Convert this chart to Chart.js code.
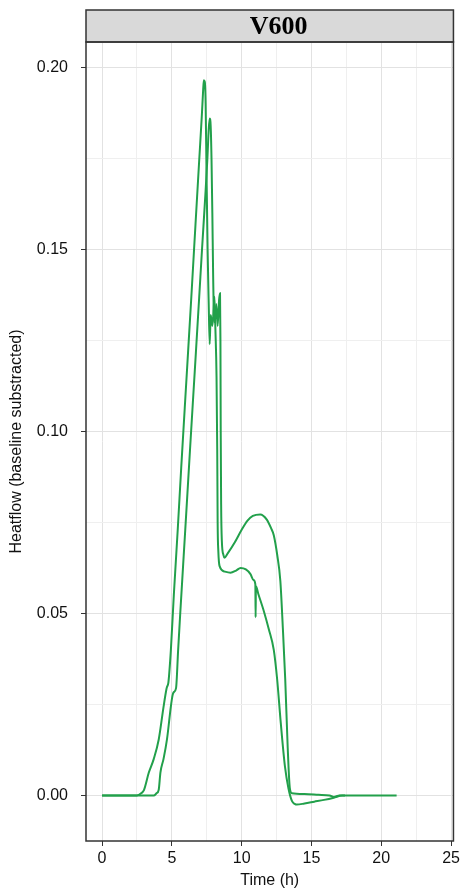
<!DOCTYPE html>
<html>
<head>
<meta charset="utf-8">
<script src="https://cdn.jsdelivr.net/npm/chart.js@4/dist/chart.umd.min.js"></script>
<style>
  body { margin: 0; background: #fff; }
  #wrap { width: 463px; height: 890px; }
</style>
</head>
<body>
<div id="wrap"><canvas id="grafico" width="463" height="890"></canvas></div>
<script>
    // Curva A (sube antes, pico mas alto)
    const tiempoA = [0, 2.5, 2.8, 3.0, 3.35, 3.7, 4.06, 4.41, 4.6, 4.65, 4.75, 4.93, 5.14, 5.42, 5.67, 6.04, 6.38, 6.59, 6.96, 7.15, 7.23, 7.29, 7.36, 7.42, 7.48, 7.56, 7.64, 7.71, 7.78, 7.9, 8.0, 8.05, 8.12, 8.2, 8.25, 8.28, 8.33, 8.42, 8.8, 9.2, 9.6, 9.92, 10.3, 10.63, 10.85, 10.98, 11.0, 11.02, 11.2, 11.6, 11.95, 12.3, 12.54, 12.8, 13.1, 13.35, 13.6, 13.8, 13.95, 14.5, 15.2, 15.9, 16.6, 17.2, 17.4];
    const flujoA = [0, 0, 0.0006, 0.0015, 0.0063, 0.010, 0.0154, 0.0245, 0.029, 0.0298, 0.031, 0.040, 0.055, 0.073, 0.090, 0.114, 0.136, 0.150, 0.1746, 0.187, 0.193, 0.1965, 0.196, 0.19, 0.172, 0.15, 0.135, 0.124, 0.132, 0.129, 0.134, 0.137, 0.128, 0.115, 0.095, 0.075, 0.067, 0.063, 0.0615, 0.0612, 0.0618, 0.0625, 0.0621, 0.0608, 0.0592, 0.058, 0.049, 0.0575, 0.0553, 0.0505, 0.0456, 0.040, 0.032, 0.020, 0.008, 0.002, -0.0015, -0.0023, -0.0025, -0.0022, -0.0017, -0.0012, -0.0006, 0, 0];

    // Curva B (sube despues, segundo hombro mas alto)
    const tiempoB = [0, 3.7, 3.9, 4.06, 4.18, 4.4, 4.65, 4.93, 5.05, 5.12, 5.3, 5.45, 5.6, 5.96, 6.3, 6.6, 6.72, 6.96, 7.16, 7.4, 7.54, 7.64, 7.71, 7.78, 7.84, 7.9, 7.95, 8.0, 8.08, 8.18, 8.28, 8.38, 8.45, 8.48, 8.5, 8.53, 8.58, 8.7, 8.77, 9.0, 9.5, 10.0, 10.42, 10.8, 11.33, 11.8, 12.1, 12.3, 12.55, 12.77, 12.95, 13.12, 13.3, 13.45, 13.6, 14.5, 15.5, 16.3, 16.6, 17.0, 18, 21.1];
    const flujoB = [0, 0, 0.0006, 0.0016, 0.0063, 0.010, 0.0154, 0.0245, 0.0275, 0.0283, 0.0295, 0.040, 0.050, 0.073, 0.095, 0.114, 0.1216, 0.137, 0.150, 0.165, 0.1746, 0.183, 0.186, 0.184, 0.175, 0.16, 0.145, 0.133, 0.130, 0.135, 0.129, 0.136, 0.138, 0.125, 0.10, 0.08, 0.07, 0.066, 0.0653, 0.0665, 0.0695, 0.073, 0.0755, 0.0768, 0.0772, 0.0758, 0.0735, 0.0715, 0.066, 0.059, 0.046, 0.032, 0.013, 0.002, 0.0006, 0.0004, 0.0002, 0, -0.0004, 0, 0, 0];

    // Ejes: lineas mayores (con etiqueta) y menores
    const ticksX = [0, 2.5, 5, 7.5, 10, 12.5, 15, 17.5, 20, 22.5, 25];
    const etiquetasX = [0, 5, 10, 15, 20, 25];
    const ticksY = [0, 0.025, 0.05, 0.075, 0.1, 0.125, 0.15, 0.175, 0.2];
    const etiquetasY = [0, 0.05, 0.1, 0.15, 0.2];

    const panelTitulo = 'V600';
    const verde = '#22a04b';

    const puntos = (xs, ys) => xs.map((x, i) => ({ x: x, y: ys[i] }));

    // Franja gris del panel y borde (estilo facet)
    const panelPlugin = {
        id: 'panel',
        afterDraw(chart) {
            const { ctx, chartArea: a } = chart;
            ctx.save();
            ctx.fillStyle = '#d9d9d9';
            ctx.fillRect(a.left, 10, a.right - a.left, a.top - 10);
            ctx.strokeStyle = '#333';
            ctx.lineWidth = 1.5;
            ctx.strokeRect(a.left, 10, a.right - a.left, a.top - 10);
            ctx.strokeRect(a.left, a.top, a.right - a.left, a.bottom - a.top);
            ctx.fillStyle = '#000';
            ctx.font = 'bold 26px "Liberation Serif", "DejaVu Serif", serif';
            ctx.textAlign = 'center';
            ctx.textBaseline = 'middle';
            ctx.fillText(panelTitulo, (a.left + a.right) / 2 + 9, 27);
            ctx.restore();
        }
    };

    const fuente = { family: '"Liberation Sans", Arial, sans-serif', size: 16 };

    new Chart(document.getElementById('grafico').getContext('2d'), {
        type: 'line',
        data: {
            datasets: [
                { label: 'A', data: puntos(tiempoA, flujoA), borderColor: verde, borderWidth: 2, pointRadius: 0, cubicInterpolationMode: 'monotone', fill: false },
                { label: 'B', data: puntos(tiempoB, flujoB), borderColor: verde, borderWidth: 2, pointRadius: 0, cubicInterpolationMode: 'monotone', fill: false }
            ]
        },
        options: {
            responsive: false,
            animation: false,
            layout: { padding: { top: 42, right: 5, left: 0, bottom: 0 } },
            plugins: { legend: { display: false }, tooltip: { enabled: false } },
            scales: {
                x: {
                    type: 'linear',
                    min: -1.15,
                    max: 25.17,
                    afterBuildTicks: (axis) => { axis.ticks = ticksX.map(v => ({ value: v })); },
                    afterFit: (scale) => { scale.height = 49; },
                    border: { display: false },
                    grid: {
                        color: (c) => etiquetasX.includes(c.tick.value) ? '#e2e2e2' : '#efefef',
                        tickColor: (c) => etiquetasX.includes(c.tick.value) ? '#333' : 'rgba(0,0,0,0)',
                        tickLength: 5,
                        lineWidth: 1
                    },
                    ticks: {
                        autoSkip: false,
                        maxRotation: 0,
                        padding: 3,
                        color: '#111',
                        font: fuente,
                        callback: (v) => etiquetasX.includes(v) ? String(v) : ''
                    },
                    title: { display: true, text: 'Time (h)', color: '#111', font: fuente, padding: { top: 0, bottom: 0 } }
                },
                y: {
                    min: -0.0125,
                    max: 0.207,
                    afterBuildTicks: (axis) => { axis.ticks = ticksY.map(v => ({ value: v })); },
                    afterFit: (scale) => { scale.width = 86; },
                    border: { display: false },
                    grid: {
                        color: (c) => etiquetasY.includes(c.tick.value) ? '#e2e2e2' : '#efefef',
                        tickColor: (c) => etiquetasY.includes(c.tick.value) ? '#333' : 'rgba(0,0,0,0)',
                        tickLength: 5,
                        lineWidth: 1
                    },
                    ticks: {
                        autoSkip: false,
                        padding: 13,
                        color: '#111',
                        font: fuente,
                        callback: (v) => etiquetasY.includes(v) ? v.toFixed(2) : ''
                    },
                    title: { display: true, text: 'Heatflow (baseline substracted)', color: '#111', font: fuente, padding: { top: 7, bottom: 0 } }
                }
            }
        },
        plugins: [panelPlugin]
    });
</script>
</body>
</html>
